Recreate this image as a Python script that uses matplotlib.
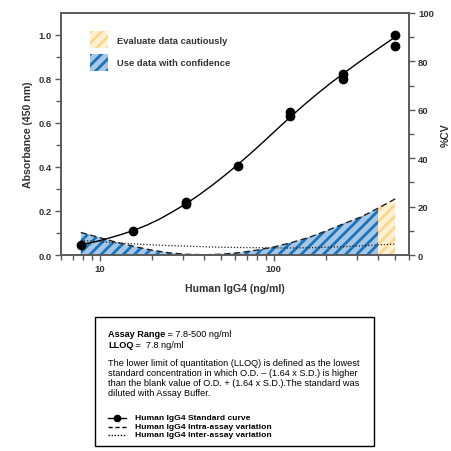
import matplotlib
matplotlib.use('Agg')
import matplotlib.pyplot as plt
from matplotlib.patches import Rectangle
from matplotlib.lines import Line2D
from matplotlib.ticker import NullFormatter

plt.rcParams['font.family'] = ['Liberation Sans', 'DejaVu Sans']
plt.rcParams['font.weight'] = 'bold'
plt.rcParams['hatch.linewidth'] = 2.0

# ---------------- data ----------------
std_conc = [7.8, 15.6, 31.25, 31.25, 62.5, 125, 125, 250, 250, 500, 500]
std_od = [0.047, 0.11, 0.24, 0.233, 0.403, 0.65, 0.63, 0.823, 0.80, 1.0, 0.949]

curve_conc = [7.8, 9.3, 11, 13.1, 15.6, 18.6, 22.1, 26.2, 31.25, 37.2, 44.2, 52.6, 62.5,
              74.3, 88.4, 105, 125, 149, 177, 210, 250, 297, 354, 420, 500]
curve_od = [0.047, 0.059, 0.074, 0.0915, 0.111, 0.135, 0.163, 0.196, 0.232, 0.2725, 0.316,
            0.363, 0.412, 0.464, 0.518, 0.573, 0.628, 0.681, 0.731, 0.778, 0.823, 0.8665,
            0.909, 0.950, 0.991]

cv_conc = [7.8, 10, 12, 15.6, 20, 25, 31.25, 40, 50, 62.5, 80, 100, 125, 160, 200, 250, 320, 400, 500]
intra_cv = [9.3, 7.2, 5.6, 3.6, 2.0, 0.9, 0.3, 0.1, 0.3, 0.9, 2.0, 3.3, 5.0, 7.3, 9.9, 12.8, 15.8, 19.4, 23.2]
inter_cv = [6.0, 5.5, 5.1, 4.6, 4.2, 3.9, 3.7, 3.4, 3.2, 3.1, 3.0, 2.95, 2.9, 3.0, 3.2, 3.4, 3.8, 4.2, 4.5]

confidence_limit = 400

x_major = [10, 100]
x_major_labels = ['10', '100']
x_minor = [6, 7, 8, 9, 20, 30, 40, 50, 60, 70, 80, 90, 200, 300, 400, 500, 600]
od_major = [0.0, 0.2, 0.4, 0.6, 0.8, 1.0]
od_minor = [0.1, 0.3, 0.5, 0.7, 0.9]
cv_major = [0, 20, 40, 60, 80, 100]
cv_minor = [10, 30, 50, 70, 90]

zone_labels = ['Evaluate data cautiously', 'Use data with confidence']
info_lines = [
    "The lower limit of quantitation (LLOQ) is defined as the lowest",
    "standard concentration in which O.D. \u2013 (1.64 x S.D.) is higher",
    "than the blank value of O.D. + (1.64 x S.D.).The standard was",
    "diluted with Assay Buffer.",
]
legend_labels = [
    "Human IgG4 Standard curve",
    "Human IgG4 Intra-assay variation",
    "Human IgG4 Inter-assay variation",
]

# ---------------- style ----------------
W = H = 452
spine_col = '#5a5a5a'
text_col = '#333333'
blue_face = '#a6c6e6'
blue_hatch = '#1b74ba'
yel_face = '#fff2d4'
yel_hatch = '#fcd68c'


def fx(px):
    return px / W


def fy(py):
    return 1 - py / H


fig = plt.figure(figsize=(W / 100, H / 100), dpi=100)
L, R, T, B = 61, 409, 14, 256
ax = fig.add_axes([fx(L), fy(B), (R - L) / W, (B - T) / H])
ax2 = ax.twinx()
ax.set_zorder(ax2.get_zorder() + 1)
ax.patch.set_visible(False)

# CV areas on right axis
blue_x = [c for c in cv_conc if c <= confidence_limit]
blue_y = [v for c, v in zip(cv_conc, intra_cv) if c <= confidence_limit]
yel_x = [c for c in cv_conc if c >= confidence_limit]
yel_y = [v for c, v in zip(cv_conc, intra_cv) if c >= confidence_limit]
ax2.fill_between(blue_x, 0, blue_y, facecolor=blue_face, edgecolor=blue_hatch,
                 hatch='///', linewidth=0)
ax2.fill_between(yel_x, 0, yel_y, facecolor=yel_face, edgecolor=yel_hatch,
                 hatch='///', linewidth=0)
ax2.plot(cv_conc, intra_cv, color='#222222', lw=1.0, ls=(0, (4.5, 2.5)))
ax2.plot(cv_conc, inter_cv, color='#222222', lw=0.9, ls=(0, (1, 1.5)))

# standard curve
ax.plot(curve_conc, curve_od, color='black', lw=1.0, zorder=3)
ax.plot(std_conc, std_od, 'o', color='black', ms=6, zorder=4, clip_on=False)

ax.set_xscale('log')
ax.set_xlim(6, 600)
ax.set_ylim(0, 1.1)
ax2.set_ylim(0, 100)

ax.set_xticks(x_major, labels=x_major_labels)
ax.set_xticks(x_minor, minor=True)
ax.xaxis.set_minor_formatter(NullFormatter())
ax.set_yticks(od_major, labels=[f'{v:.1f}' for v in od_major])
ax.set_yticks(od_minor, minor=True)
ax2.set_yticks(cv_major, labels=[str(v) for v in cv_major])
ax2.set_yticks(cv_minor, minor=True)

for a in (ax, ax2):
    for s in a.spines.values():
        s.set_color(spine_col)
        s.set_linewidth(1.2)
    a.tick_params(which='both', direction='out', color=spine_col, width=1.0,
                  labelcolor=text_col, labelsize=6.8, pad=2.5)
    a.tick_params(which='major', length=4)
    a.tick_params(which='minor', length=3.5)

ax.set_xlabel('Human IgG4 (ng/ml)', fontsize=7.6, color=text_col, fontweight='bold', va='center')
ax.xaxis.set_label_coords(0.5, -(289 - B) / (B - T))
ax.set_ylabel('Absorbance (450 nm)', fontsize=7.6, color=text_col, fontweight='bold', va='center')
ax.yaxis.set_label_coords(-(L - 28) / (R - L), 0.5)
ax2.set_ylabel('%CV', fontsize=7.6, color=text_col, fontweight='bold', va='center')
ax2.yaxis.set_label_coords((446 - L) / (R - L), 0.5)

# in-plot zone legend (hatched swatches)
for (top, bot), face, hc, lab, ty in zip([(32, 49), (55, 72)], [yel_face, blue_face],
                                          [yel_hatch, blue_hatch], zone_labels, [42, 64]):
    fig.add_artist(Rectangle((fx(90), fy(bot)), 18 / W, (bot - top) / H,
                             transform=fig.transFigure, facecolor=face, edgecolor=hc,
                             hatch='///', linewidth=0, zorder=5))
    fig.text(fx(117), fy(ty), lab, fontsize=6.75, fontweight='bold', color=text_col,
             va='center', zorder=5)

# info box
bx0, bx1, by0, by1 = 95, 374, 318, 447
fig.patches.append(Rectangle((fx(bx0), fy(by1)), (bx1 - bx0) / W, (by1 - by0) / H,
                             transform=fig.transFigure, facecolor='white',
                             edgecolor='black', lw=1.0))

fs = 6.55
tx = fx(108)

fig.canvas.draw()
renderer = fig.canvas.get_renderer()


def bold_then_normal(y, bold, normal):
    t = fig.text(tx, fy(y), bold, fontsize=fs, fontweight='bold', color='black', va='center')
    bb = t.get_window_extent(renderer=renderer)
    fig.text(bb.x1 / W, fy(y), normal, fontsize=fs, fontweight='normal', color='black', va='center')


bold_then_normal(335, 'Assay Range', ' = 7.8-500 ng/ml')
bold_then_normal(345, 'LLOQ', ' =  7.8 ng/ml')

for i, line in enumerate(info_lines):
    fig.text(tx, fy(364 + i * 9.8), line, fontsize=fs, fontweight='normal', color='black', va='center')

leg_y = [419, 427.5, 436]
line_styles = ['-', (0, (3, 2)), (0, (1, 1.2))]
for y, lab, ls in zip(leg_y, legend_labels, line_styles):
    fig.add_artist(Line2D([fx(108), fx(126)], [fy(y), fy(y)], color='black', lw=1.0,
                          ls=ls, transform=fig.transFigure))
    fig.text(fx(135), fy(y), lab, fontsize=6.1, fontweight='bold', color='black', va='center')
fig.add_artist(Line2D([fx(117)], [fy(leg_y[0])], color='black', marker='o', ms=4.5,
                      ls='none', transform=fig.transFigure))

fig.savefig('out.png', dpi=100)
